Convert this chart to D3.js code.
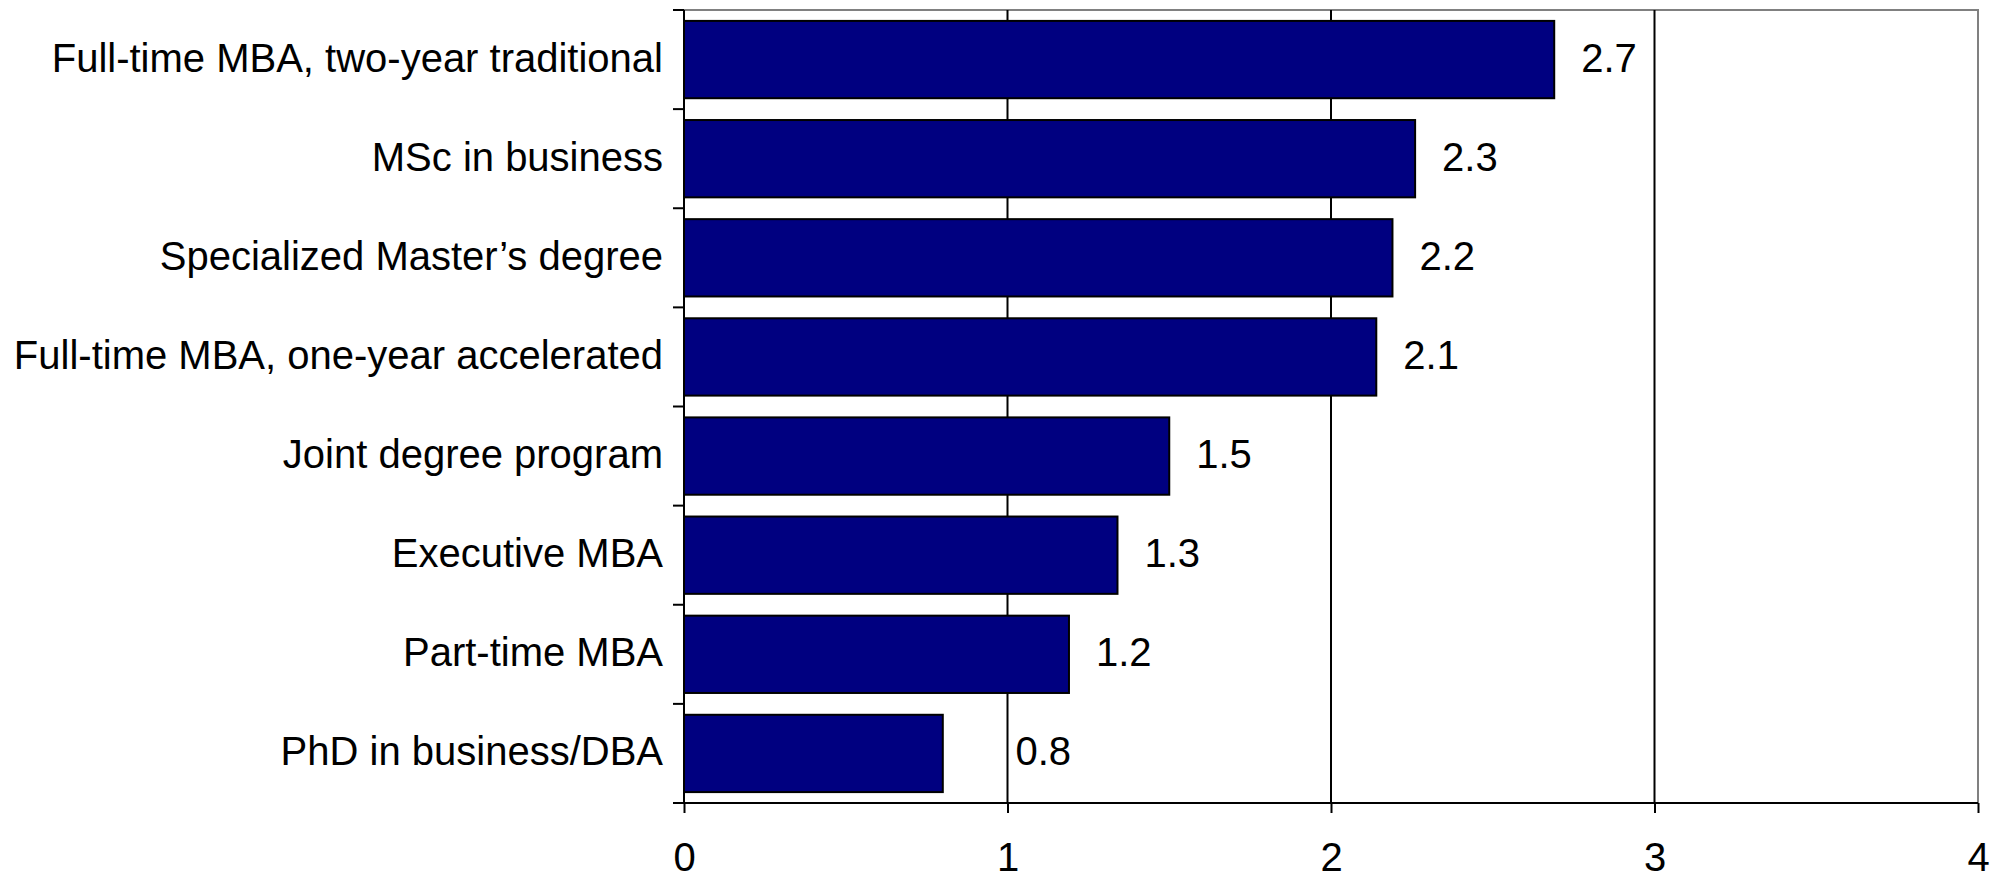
<!DOCTYPE html>
<html>
<head>
<meta charset="utf-8">
<script src="https://cdn.jsdelivr.net/npm/d3@7"></script>
<style>
  html, body { margin: 0; padding: 0; background: #fff; }
  svg { display: block; font-family: "Liberation Sans", Arial, sans-serif; }
</style>
</head>
<body>
<svg id="chart" width="1997" height="878"></svg>
<script>
const categories = [
  "Full-time MBA, two-year traditional",
  "MSc in business",
  "Specialized Master\u2019s degree",
  "Full-time MBA, one-year accelerated",
  "Joint degree program",
  "Executive MBA",
  "Part-time MBA",
  "PhD in business/DBA"
];
const values = [2.69, 2.26, 2.19, 2.14, 1.50, 1.34, 1.19, 0.80];
const valueLabels = ["2.7", "2.3", "2.2", "2.1", "1.5", "1.3", "1.2", "0.8"];
const xTicks = [0, 1, 2, 3, 4];

(function () {
const svg = d3.select("#chart");
const pL = 684, pR = 1978, pT = 10, pB = 803;

const x = d3.scaleLinear().domain([0, 4]).range([pL, pR]);
const y = d3.scaleBand().domain(categories).range([pT, pB])
  .paddingInner(0.22).paddingOuter(0.11);

// plot border (top/right gray)
svg.append("path")
  .attr("d", `M${pL},${pT}H${pR}V${pB}`)
  .attr("fill", "none").attr("stroke", "#808080").attr("stroke-width", 2);

// vertical gridlines
const gridVals = xTicks.filter(v => v > 0 && v < 4);
svg.append("g").selectAll("line").data(gridVals).join("line")
  .attr("x1", d => x(d)).attr("x2", d => x(d))
  .attr("y1", pT).attr("y2", pB)
  .attr("stroke", "#000").attr("stroke-width", 2);

// bars
svg.append("g").selectAll("rect").data(categories).join("rect")
  .attr("x", x(0))
  .attr("y", d => y(d))
  .attr("width", (d, i) => x(values[i]) - x(0))
  .attr("height", y.bandwidth())
  .attr("fill", "#000080")
  .attr("stroke", "#000")
  .attr("stroke-width", 2);

// x axis
const xAxis = svg.append("g").attr("transform", `translate(0,${pB})`)
  .call(d3.axisBottom(x).tickValues(xTicks).tickFormat(d3.format("d"))
    .tickSize(10).tickSizeOuter(0).tickPadding(30));
xAxis.select(".domain").attr("stroke", "#000").attr("stroke-width", 2)
  .attr("d", `M${pL},0H${pR}`);
xAxis.selectAll(".tick line").attr("stroke", "#000").attr("stroke-width", 2);
xAxis.selectAll(".tick text").attr("font-size", 40).attr("fill", "#000")
  .attr("font-family", "Liberation Sans, Arial, sans-serif");

// y axis (line + ticks at category boundaries)
const yg = svg.append("g");
yg.append("line").attr("x1", pL).attr("x2", pL).attr("y1", pT).attr("y2", pB)
  .attr("stroke", "#000").attr("stroke-width", 2);
const boundaries = categories.map(c => y(c) - y.step() * y.paddingOuter())
  .concat([pB]);
yg.selectAll("line.tk").data(boundaries).join("line").attr("class", "tk")
  .attr("x1", pL - 11).attr("x2", pL)
  .attr("y1", d => d).attr("y2", d => d)
  .attr("stroke", "#000").attr("stroke-width", 2);

// category labels
svg.append("g").selectAll("text").data(categories).join("text")
  .attr("x", pL - 21)
  .attr("y", d => y(d) + y.bandwidth() / 2)
  .attr("dy", "0.3em")
  .attr("text-anchor", "end")
  .attr("font-size", 40)
  .attr("fill", "#000")
  .text(d => d);

// value labels, nudged past a gridline they would cross
const lbls = svg.append("g").selectAll("text").data(categories).join("text")
  .attr("y", d => y(d) + y.bandwidth() / 2)
  .attr("dy", "0.3em")
  .attr("font-size", 40)
  .attr("fill", "#000")
  .text((d, i) => valueLabels[i]);
lbls.each(function(d, i) {
  const t = d3.select(this);
  let x0 = x(values[i]) + 27;
  t.attr("x", x0);
  const w = this.getComputedTextLength();
  gridVals.forEach(g => {
    const gx = x(g);
    if (gx > x0 - 4 && gx < x0 + w + 4) x0 = gx + 8;
  });
  t.attr("x", x0);
});
})();
</script>
</body>
</html>
